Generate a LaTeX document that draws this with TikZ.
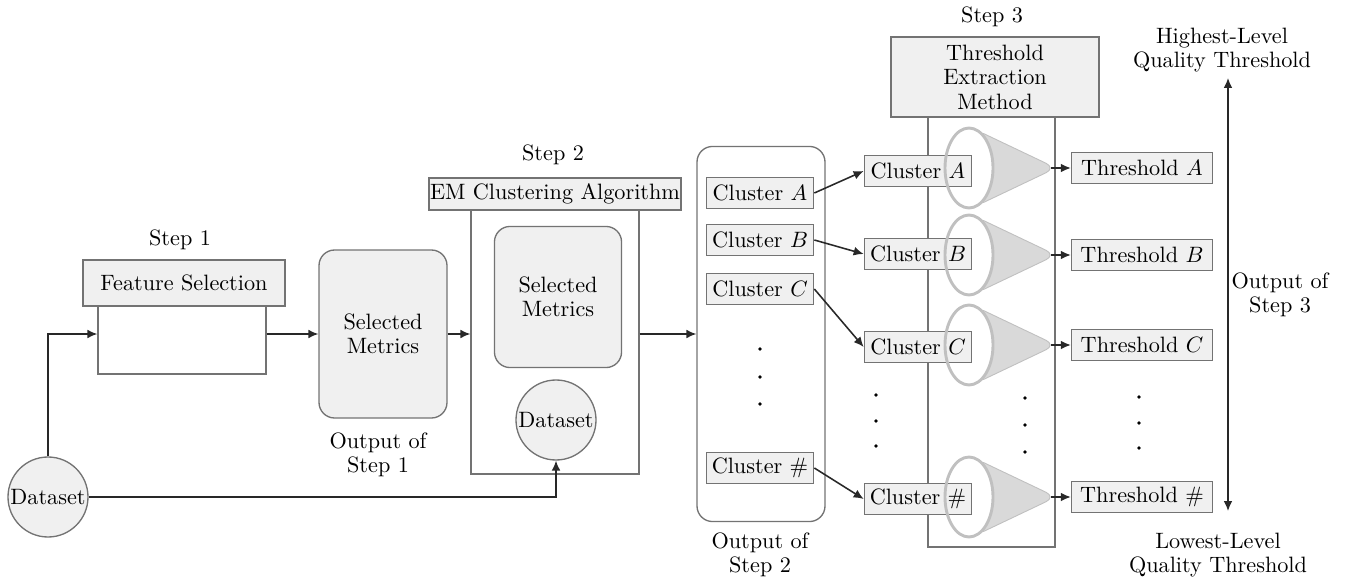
\documentclass[tikz,border=0pt]{standalone}
\usetikzlibrary{arrows.meta,shapes.geometric}

\definecolor{boxfill}{RGB}{240,240,240}
\definecolor{boxline}{RGB}{115,115,115}
\definecolor{conefill}{RGB}{217,217,217}
\definecolor{coneline}{RGB}{192,192,192}
\definecolor{wire}{RGB}{40,40,40}

\begin{document}
\begin{tikzpicture}[x=0.45pt, y=-0.45pt,
  every node/.style={font=\fontsize{10pt}{11pt}\selectfont},
  box/.style={draw=boxline, fill=boxfill, line width=0.6pt, inner sep=2pt},
  frame/.style={draw=boxline, line width=0.6pt, inner sep=0pt},
  rbox/.style={box, rounded corners=7pt, align=center},
  disc/.style={circle, draw=boxline, fill=boxfill, line width=0.6pt, minimum size=36pt, inner sep=0pt},
  clu/.style={box, minimum width=48.3pt, minimum height=13.8pt},
  thr/.style={box, minimum width=63.5pt, minimum height=14pt},
  cup/.style={ellipse, draw=coneline, line width=1.3pt, minimum width=21.6pt, minimum height=36pt, inner sep=0pt},
  cone/.style={fill=conefill, draw=coneline, line width=0.4pt, rounded corners=5pt},
  lbl/.style={align=center, inner sep=0pt},
  dot/.style={circle, fill=black, inner sep=0pt, minimum size=1.6pt},
  link/.style={draw=wire, line width=0.7pt, -{Latex[length=4.5pt,width=4pt]}}]

  \useasboundingbox (0,0) rectangle (1348,581);

  % step 1
  \node[lbl] (s1) at (180,240) {Step 1};
  \node[frame, minimum width=75.6pt, minimum height=30.6pt] (fsbody) at (182,340) {};
  \node[box, minimum width=90.9pt, minimum height=20.7pt] (fshead) at (184,283) {Feature Selection};
  \node[rbox, minimum width=57.6pt, minimum height=75.6pt] (sm1) at (383,334) {Selected\\Metrics};
  \node[lbl] (o1) at (378,455) {Output of\\Step 1};
  \node[disc] (ds1) at (48,497) {Dataset};

  % step 2
  \node[lbl] (s2) at (553,155) {Step 2};
  \node[frame, minimum width=75.6pt, minimum height=118.8pt] (embody) at (555,342) {};
  \node[box, minimum width=106.2pt, minimum height=14.4pt, inner xsep=0.5pt, inner ysep=1pt] (emhead) at (555,194) {EM Clustering Algorithm};
  \node[rbox, minimum width=57.2pt, minimum height=63.5pt] (sm2) at (558,297) {Selected\\Metrics};
  \node[disc] (ds2) at (556,420) {Dataset};

  \node[frame, rounded corners=7pt, minimum width=57.6pt, minimum height=168.8pt] (out2) at (761,334) {};
  \node[clu] (c2a) at (760,193) {Cluster $A$};
  \node[clu] (c2b) at (760,240) {Cluster $B$};
  \node[clu] (c2c) at (760,289) {Cluster $C$};
  \node[clu] (c2n) at (760,468) {Cluster $\#$};
  \foreach \y [count=\i] in {349,377,404}
    \node[dot] (d2\i) at (760,\y) {};
  \node[lbl] (o2) at (760,555) {Output of\\Step 2};

  % step 3
  \node[lbl] (s3) at (992,17) {Step 3};
  \node[frame, minimum width=57.2pt, minimum height=193.5pt] (tembody) at (991.5,332) {};
  \node[box, minimum width=93.6pt, minimum height=36pt, align=center] (temhead) at (995,77) {Threshold\\Extraction\\Method};

  \foreach \n/\y in {a/168,b/255,c/345,n/497} {
    \path[cone] (974,\y-39) -- (1056,\y) -- (974,\y+39) -- cycle;
    \node[cup, draw=none, fill=white] (bg\n) at (969,\y) {};
  }

  \node[clu] (c3a) at (918,171) {Cluster $A$};
  \node[clu] (c3b) at (918,254) {Cluster $B$};
  \node[clu] (c3c) at (918,347) {Cluster $C$};
  \node[clu] (c3n) at (918,499) {Cluster $\#$};

  \foreach \n/\y in {a/168,b/255,c/345,n/497} {
    \node[cup] (f\n) at (969,\y) {};
    \coordinate (t\n) at (1051,\y);
  }
  \foreach \y [count=\i] in {395,421,446}
    \node[dot] (d3\i) at (876,\y) {};
  \foreach \y [count=\i] in {398,425,452}
    \node[dot] (d4\i) at (1025,\y) {};

  \node[thr] (tha) at (1142,168) {Threshold $A$};
  \node[thr] (thb) at (1142,255) {Threshold $B$};
  \node[thr] (thc) at (1142,345) {Threshold $C$};
  \node[thr] (thn) at (1142,497) {Threshold $\#$};
  \foreach \y [count=\i] in {397,423,448}
    \node[dot] (d5\i) at (1139,\y) {};

  \coordinate (qtop) at (1228,78);
  \coordinate (qbot) at (1228,511);
  \node[lbl] (qhi) at (1222,50) {Highest-Level\\Quality Threshold};
  \node[lbl] (qlo) at (1218,555) {Lowest-Level\\Quality Threshold};
  \node[lbl] (o3) at (1280,295) {Output of\\Step 3};

  % connectors
  \draw[link] (ds1) |- (fsbody.west |- sm1);
  \draw[link] (fsbody.east |- sm1) -- (sm1);
  \draw[link] (sm1) -- (embody.west |- sm1);
  \draw[link] (ds1) -| (ds2);
  \draw[link] (embody.east |- sm1) -- (out2.west |- sm1);
  \draw[link] (c2a.east) -- (c3a.west);
  \draw[link] (c2b.east) -- (c3b.west);
  \draw[link] (c2c.east) -- (c3c.west);
  \draw[link] (c2n.east) -- (c3n.west);
  \draw[link] (ta) -- (tha);
  \draw[link] (tb) -- (thb);
  \draw[link] (tc) -- (thc);
  \draw[link] (tn) -- (thn);
  \draw[link, {Latex[length=4.5pt,width=4pt]}-{Latex[length=4.5pt,width=4pt]}] (qtop) -- (qbot);
\end{tikzpicture}
\end{document}
